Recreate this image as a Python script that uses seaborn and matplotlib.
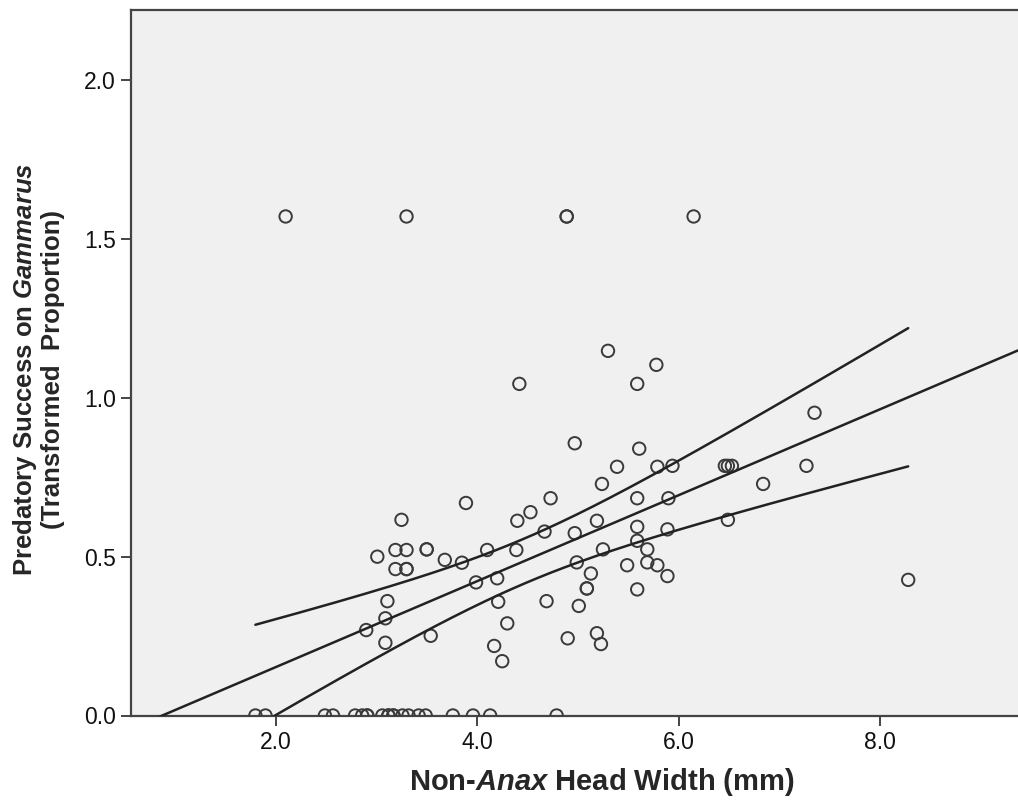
import matplotlib
matplotlib.use("Agg")
import matplotlib.pyplot as plt
import numpy as np
import pandas as pd
import seaborn as sns

# head width (mm) of non-Anax predators, and transformed proportion of Gammarus eaten
head_width = [
    # success = pi/2
    2.10, 3.30, 4.89, 4.89, 6.15,
    # success = 0
    1.80, 1.90, 2.49, 2.57, 2.79, 2.86, 2.91, 2.91, 3.06, 3.12, 3.12, 3.17, 3.17,
    3.26, 3.32, 3.42, 3.49, 3.76, 3.96, 4.13, 4.79,
    # the rest
    3.89, 3.25, 3.19, 3.30, 3.50, 3.50, 3.01, 3.68, 3.85, 3.19, 3.30, 3.30,
    3.99, 3.11, 3.09, 2.90, 3.09, 3.54,
    5.30, 5.78, 4.42, 5.59, 4.97, 5.61, 5.39, 5.79, 5.94, 6.46, 6.49, 6.53,
    5.24, 5.59, 5.90, 4.73, 4.53, 4.40, 5.19, 5.59, 5.89, 4.67, 4.97, 5.59,
    5.69, 5.25, 4.10, 4.39, 4.99, 5.49, 5.69, 5.79, 5.89, 5.13, 4.20, 5.09,
    5.09, 5.59, 4.21, 4.69, 5.01, 4.30, 4.17, 4.25, 4.90, 5.19, 5.23,
    7.35, 7.27, 6.84, 6.49, 8.28,
]
success = [
    1.571, 1.571, 1.571, 1.571, 1.571,
    0, 0, 0, 0, 0, 0, 0, 0, 0, 0, 0, 0, 0,
    0, 0, 0, 0, 0, 0, 0, 0,
    0.669, 0.616, 0.521, 0.521, 0.523, 0.523, 0.500, 0.490, 0.481, 0.461, 0.461, 0.461,
    0.419, 0.360, 0.306, 0.269, 0.229, 0.251,
    1.148, 1.104, 1.044, 1.044, 0.857, 0.840, 0.783, 0.783, 0.786, 0.786, 0.786, 0.786,
    0.729, 0.684, 0.684, 0.684, 0.640, 0.613, 0.613, 0.594, 0.586, 0.579, 0.574, 0.550,
    0.523, 0.523, 0.521, 0.521, 0.482, 0.473, 0.482, 0.473, 0.439, 0.447, 0.432, 0.400,
    0.400, 0.397, 0.358, 0.360, 0.345, 0.290, 0.219, 0.171, 0.243, 0.259, 0.225,
    0.953, 0.786, 0.729, 0.616, 0.427,
]

x_ticks = [2.0, 4.0, 6.0, 8.0]
y_ticks = [0.0, 0.5, 1.0, 1.5, 2.0]

df = pd.DataFrame({"width": head_width, "success": success})

sns.set_style("ticks")
plt.rcParams["font.family"] = ["Liberation Sans", "DejaVu Sans"]
plt.rcParams["mathtext.fontset"] = "custom"
plt.rcParams["mathtext.rm"] = "Liberation Sans:bold"
plt.rcParams["mathtext.it"] = "Liberation Sans:italic:bold"
plt.rcParams["mathtext.bf"] = "Liberation Sans:bold"

fig = plt.figure(figsize=(10.18, 8.02), dpi=100)
ax = fig.add_axes([131 / 1018, 1 - 715.5 / 802, 1 - 131 / 1018, (715.5 - 10) / 802])
ax.set_facecolor("#f0f0f0")
ax.set_xlim(0.565, 9.37)
ax.set_ylim(0, 2.221)

sns.scatterplot(data=df, x="width", y="success", ax=ax, marker="o", s=80,
                facecolor="none", edgecolor="#3a3a3a", linewidth=1.4, zorder=3)

# fitted line across the whole axis
sns.regplot(data=df, x="width", y="success", ax=ax, scatter=False, ci=None,
            truncate=False, line_kws={"color": "#222222", "lw": 1.8, "zorder": 4})

# 95% confidence bounds of the mean
x = df["width"].to_numpy()
y = df["success"].to_numpy()
n = len(x)
slope, icpt = np.polyfit(x, y, 1)
resid = y - (slope * x + icpt)
s = np.sqrt((resid ** 2).sum() / (n - 2))
sxx = ((x - x.mean()) ** 2).sum()
grid = np.linspace(x.min(), x.max(), 200)
fit = slope * grid + icpt
half = 1.985 * s * np.sqrt(1 / n + (grid - x.mean()) ** 2 / sxx)
ax.plot(grid, fit + half, color="#222222", lw=1.8, zorder=4)
ax.plot(grid, fit - half, color="#222222", lw=1.8, zorder=4)

ax.set_xticks(x_ticks)
ax.set_xticklabels([f"{t:.1f}" for t in x_ticks])
ax.set_yticks(y_ticks)
ax.set_yticklabels([f"{t:.1f}" for t in y_ticks])
ax.tick_params(axis="both", labelsize=16.5, length=7, width=1.4, color="#444444",
               labelcolor="#111111", pad=4)

for side in ["left", "bottom", "top"]:
    ax.spines[side].set_color("#444444")
    ax.spines[side].set_linewidth(1.6)
ax.spines["right"].set_visible(False)

ax.set_xlabel(r"Non-$\mathit{Anax}$ Head Width (mm)", fontsize=21, fontweight="bold")
ax.set_ylabel("Predatory Success on $\\mathit{Gammarus}$\n(Transformed  Proportion)",
              fontsize=18.5, fontweight="bold", linespacing=1.1)
ax.xaxis.set_label_coords(0.531, -0.071)
ax.yaxis.set_label_coords(-0.074, 0.49)

fig.savefig("out.png", dpi=100)
